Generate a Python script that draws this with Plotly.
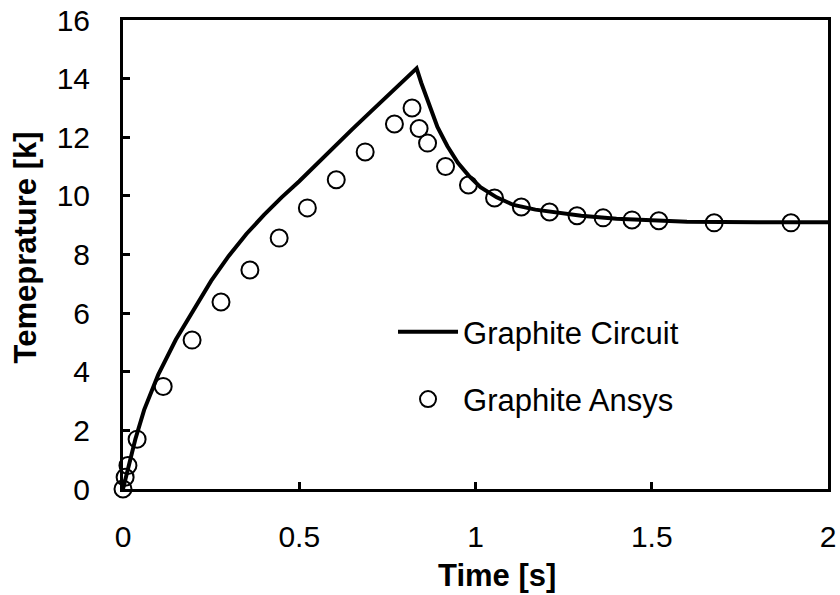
import plotly.graph_objects as go

# Graphite Circuit (solid line)
circuit_t = [0, 0.01, 0.02, 0.035, 0.06, 0.1, 0.15, 0.2, 0.25, 0.3, 0.35, 0.4, 0.45, 0.5,
             0.55, 0.6, 0.65, 0.7, 0.75, 0.8, 0.833, 0.846, 0.87, 0.892, 0.92, 0.95, 0.98,
             1.014, 1.06, 1.108, 1.17, 1.233, 1.3, 1.4, 1.5, 1.6, 1.8, 2.0]
circuit_T = [0, 0.5, 1.0, 1.7, 2.7, 3.9, 5.1, 6.1, 7.1, 7.95, 8.7, 9.35, 9.95, 10.5,
             11.1, 11.69, 12.27, 12.84, 13.42, 13.99, 14.35, 13.86, 13.05, 12.35, 11.7, 11.13, 10.7,
             10.3, 9.95, 9.69, 9.53, 9.42, 9.32, 9.22, 9.16, 9.12, 9.1, 9.1]

# Graphite Ansys (open circles)
ansys_t = [0, 0.006, 0.014, 0.04, 0.114, 0.196, 0.278, 0.36, 0.443, 0.523, 0.605, 0.687,
           0.77, 0.82, 0.84, 0.864, 0.915, 0.98, 1.054, 1.13, 1.21, 1.288, 1.362, 1.444,
           1.52, 1.677, 1.895]
ansys_T = [0, 0.4, 0.8, 1.7, 3.5, 5.08, 6.38, 7.47, 8.56, 9.59, 10.55, 11.5,
           12.45, 13.0, 12.3, 11.8, 11.0, 10.37, 9.93, 9.62, 9.45, 9.32, 9.25, 9.18,
           9.15, 9.08, 9.08]

x_ticks = [0, 0.5, 1, 1.5, 2]
x_tick_labels = ["0", "0.5", "1", "1.5", "2"]
y_ticks = [0, 2, 4, 6, 8, 10, 12, 14, 16]
x_title = "Time [s]"
y_title = "Temeprature [k]"

FONT = "Liberation Sans, Arial, sans-serif"

fig = go.Figure()
fig.add_trace(go.Scatter(
    x=circuit_t, y=circuit_T, mode="lines", name="Graphite Circuit",
    line=dict(color="black", width=4), legendgroup="a", cliponaxis=False))
fig.add_trace(go.Scatter(
    x=ansys_t, y=ansys_T, mode="markers", name="Graphite Ansys",
    marker=dict(symbol="circle-open", size=17, color="black", line=dict(width=2, color="black")),
    legendgroup="b", cliponaxis=False))

fig.update_layout(
    width=840, height=595,
    margin=dict(l=123, r=12, t=20, b=106, autoexpand=False),
    paper_bgcolor="white", plot_bgcolor="white",
    font=dict(family=FONT, size=30, color="black"),
    showlegend=True,
    legend=dict(x=0.383, y=0.392, xanchor="left", yanchor="top",
                bgcolor="rgba(0,0,0,0)", font=dict(size=31),
                tracegroupgap=24, itemwidth=60),
    annotations=[
        dict(text="<b>" + x_title + "</b>", xref="paper", yref="paper",
             x=0.5305, y=-0.185, xanchor="center", yanchor="middle",
             showarrow=False, font=dict(size=31)),
        dict(text="<b>" + y_title + "</b>", xref="paper", yref="paper",
             x=-0.137, y=0.516, xanchor="center", yanchor="middle", textangle=-90,
             showarrow=False, font=dict(size=31)),
    ],
)
fig.update_xaxes(
    range=[0, 2], tickvals=x_ticks, ticktext=x_tick_labels, automargin=False,
    ticks="inside", ticklen=7, tickwidth=3, tickcolor="black",
    showline=True, linewidth=3, linecolor="black", mirror=True,
    showgrid=False, zeroline=False, ticklabelstandoff=19,
)
fig.update_yaxes(
    range=[0, 16], tickvals=y_ticks, automargin=False,
    ticks="inside", ticklen=7, tickwidth=3, tickcolor="black",
    showline=True, linewidth=3, linecolor="black", mirror=True,
    showgrid=False, zeroline=False, ticklabelstandoff=24,
)

fig.write_html("out.html")
